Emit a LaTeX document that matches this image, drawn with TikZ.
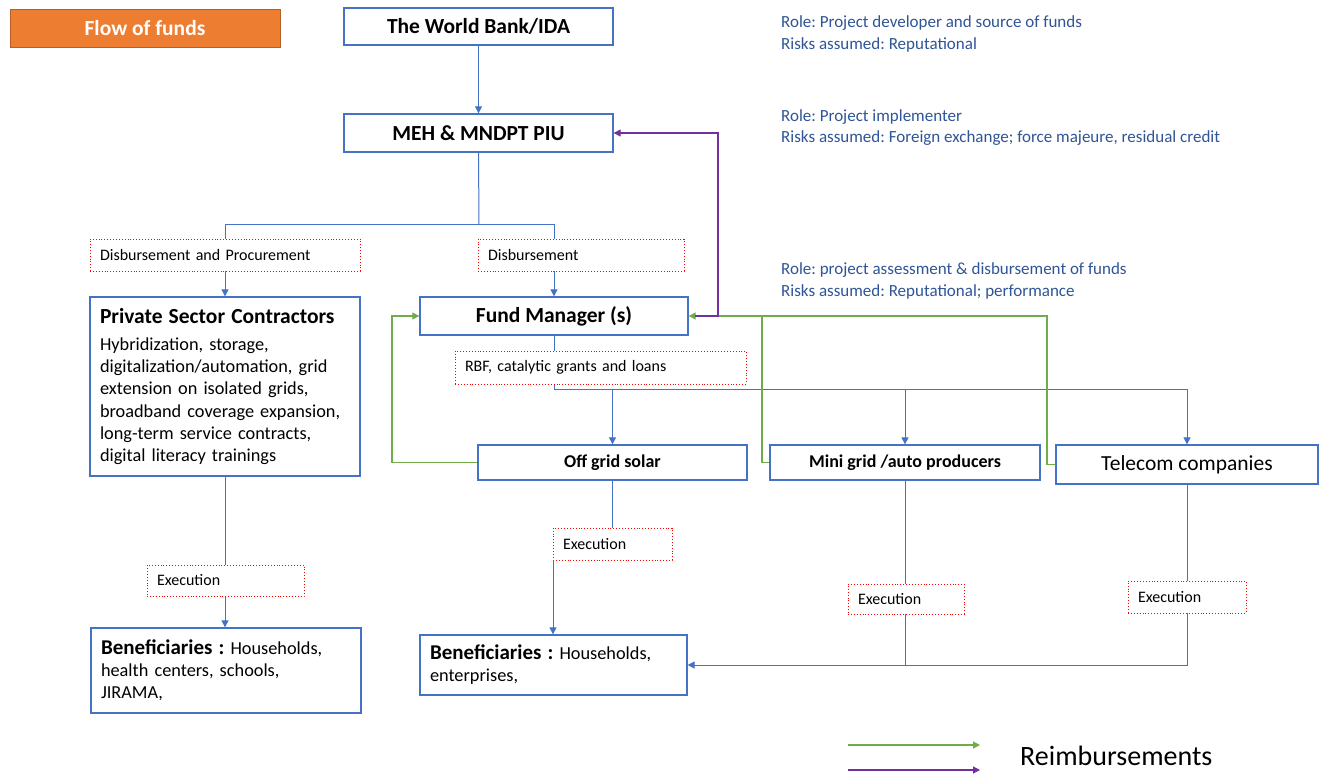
\documentclass[tikz,border=0pt]{standalone}
\usepackage{fontspec}
\setmainfont{Carlito}
\frenchspacing
\usetikzlibrary{arrows.meta}
\definecolor{boxblue}{HTML}{4472C4}
\definecolor{roleblue}{HTML}{2F5597}
\definecolor{rgreen}{HTML}{70AD47}
\definecolor{rpurple}{HTML}{7030A0}
\definecolor{orangef}{HTML}{ED7D31}
\definecolor{oranged}{HTML}{B85F24}
\tikzset{
  box/.style={draw=boxblue, line width=1.3pt, fill=white, inner sep=0pt, align=center},
  lbl/.style={draw=red, dotted, line width=0.9pt, fill=white, inner xsep=10pt, inner ysep=0pt, align=left, font=\fontsize{16}{19}\selectfont},
  tip/.style={-{Triangle[length=7pt,width=7pt]}},
  flow/.style={draw=boxblue, line width=1pt},
  reimb/.style={draw=rgreen, line width=1.2pt},
  purp/.style={draw=rpurple, line width=1.2pt},
  role/.style={text=roleblue, anchor=west, inner sep=0pt, font=\fontsize{17}{21}\selectfont},
  btitle/.style={font=\bfseries\fontsize{21.5}{26}\selectfont},
  bsmall/.style={font=\bfseries\fontsize{18}{22}\selectfont}
}
\begin{document}
\frenchspacing
\begin{tikzpicture}[x=1pt,y=-1pt]
\useasboundingbox[fill=white] (0,0) rectangle (1333,775);

% title
\node[draw=oranged, fill=orangef, line width=0.8pt, minimum width=270pt, minimum height=38pt, text=white, btitle, inner sep=0pt] (flow) at (145,28) {Flow of funds};

% main boxes
\node[box, btitle, minimum width=269pt, minimum height=37pt] (wb) at (478.5,26.5) {The World Bank/IDA};
\node[box, btitle, minimum width=269pt, minimum height=38pt] (meh) at (478.5,133) {MEH \& MNDPT PIU};
\node[box, align=left, minimum width=270pt, minimum height=179pt, text width=250pt, inner xsep=10pt, font=\fontsize{18.3}{22.3}\selectfont] (psc) at (225,386.5)
  {{\bfseries\fontsize{21.5}{26}\selectfont Private Sector Contractors}\\[5pt]
   Hybridization, storage,\\
   digitalization/automation, grid\\
   extension on isolated grids,\\
   broadband coverage expansion,\\
   long-term service contracts,\\
   digital literacy trainings};
\node[box, btitle, minimum width=268pt, minimum height=38pt] (fm) at (554,316) {Fund Manager (s)};
\node[box, bsmall, minimum width=269pt, minimum height=35pt] (ogs) at (612.5,462.5) {Off grid solar};
\node[box, bsmall, minimum width=270pt, minimum height=35pt] (mg) at (905,462.5) {Mini grid /auto producers};
\node[box, minimum width=262pt, minimum height=39pt, font=\fontsize{21.5}{26}\selectfont] (tel) at (1187,464.5) {Telecom companies};
\node[box, align=left, minimum width=270pt, minimum height=85pt, text width=250pt, inner xsep=10pt, font=\fontsize{18.3}{22}\selectfont] (b1) at (226,670.5)
  {{\bfseries\fontsize{21}{22}\selectfont Beneficiaries :} Households,\\
   health centers, schools,\\
   JIRAMA,};
\node[box, align=left, minimum width=267pt, minimum height=60pt, text width=247pt, inner xsep=10pt, font=\fontsize{18.3}{22}\selectfont] (b2) at (553.5,665)
  {{\bfseries\fontsize{21}{22}\selectfont Beneficiaries :} Households,\\
   enterprises,};

% funds flow connectors
\coordinate (j1) at (479,225);
\coordinate (j2) at (554,390);
\coordinate (k1) at (553,545);
\draw[flow, tip] (wb) -- (meh);
\draw[flow] (meh.south) -- (j1);
\draw[flow, tip] (j1) -| (psc.north);
\draw[flow, tip] (j1) -| (fm.north);
\draw[flow] (fm.south) -- (j2);
\draw[flow, tip] (j2) -| (ogs.north);
\draw[flow, tip] (j2) -| (mg.north);
\draw[flow, tip] (j2) -| (tel.north);
\draw[flow, tip] (psc.south) -- (psc.south |- b1.north);
\draw[flow, tip] (ogs.south) |- (k1) -- (k1 |- b2.north);
\draw[flow, tip] (mg.south) |- (b2.east);
\draw[flow] (tel.south) |- (mg.south |- b2.east);

% reimbursements
\coordinate (g1) at (392,316);
\coordinate (g2) at (762,316);
\coordinate (g3) at (1047,316);
\coordinate (p1) at (718,316);
\draw[reimb, tip] (ogs.west) -| (g1) -- (fm.west);
\draw[reimb, tip] (mg.west) -| (g2) -- (fm.east);
\draw[reimb] (tel.west) -| (g3) -- (g2);
\draw[purp, tip] ([xshift=6pt]fm.east) -- (p1) |- (meh.east);

% dotted labels
\node[lbl, text width=250pt, minimum height=32pt] (l1) at (225,255) {Disbursement and Procurement};
\node[lbl, text width=186pt, minimum height=32pt] (l2) at (581,255) {Disbursement};
\node[lbl, text width=271pt, minimum height=33pt] (l3) at (600.5,367.5) {RBF, catalytic grants and loans};
\node[lbl, text width=137pt, minimum height=31pt] (e1) at (225.5,580.5) {Execution};
\node[lbl, text width=99pt, minimum height=32pt] (e2) at (612.5,544) {Execution};
\node[lbl, text width=96pt, minimum height=30pt] (e3) at (906,599) {Execution};
\node[lbl, text width=98pt, minimum height=32pt] (e4) at (1187,597) {Execution};

% roles
\node[role] (r1a) at (781,23) {Role: Project developer and source of funds};
\node[role] (r1b) at (781,45) {Risks assumed: Reputational};
\node[role] (r2a) at (781,117) {Role: Project implementer};
\node[role] (r2b) at (781,138) {Risks assumed: Foreign exchange; force majeure, residual credit};
\node[role] (r3a) at (781,270) {Role: project assessment \& disbursement of funds};
\node[role] (r3b) at (781,292) {Risks assumed: Reputational; performance};

% legend
\coordinate (lg1) at (848,745);
\coordinate (lg2) at (980,745);
\coordinate (lp1) at (848,770);
\coordinate (lp2) at (980,770);
\draw[reimb, tip] (lg1) -- (lg2);
\draw[purp, tip] (lp1) -- (lp2);
\node[anchor=west, inner sep=0pt, font=\fontsize{28}{32}\selectfont] (leg) at (1020,756) {Reimbursements};
\end{tikzpicture}
\end{document}
